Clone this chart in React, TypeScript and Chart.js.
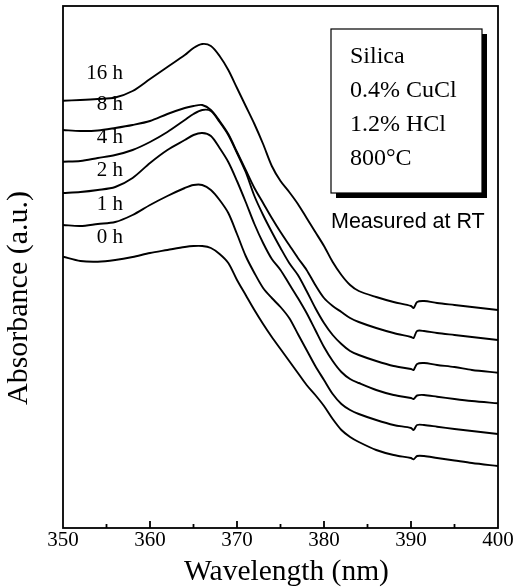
import React, { useEffect, useRef } from 'react';
import { Chart, registerables } from 'chart.js';

Chart.register(...registerables);

// Wavelength samples (nm)
const wavelengths = [
  350, 352, 354, 356, 358, 360, 362, 364, 365, 366, 367, 368, 369, 370, 371, 372, 373, 374, 375,
  376, 377, 378, 379, 380, 381, 382, 383, 384, 386, 388, 390, 390.3, 390.7, 391.5, 393, 395, 397, 400,
];

// Absorbance (a.u., offset curves) for each annealing time
const abs16h = [
  4.273, 4.28, 4.29, 4.305, 4.37, 4.49, 4.61, 4.73, 4.8, 4.84, 4.82, 4.72, 4.58, 4.4, 4.22, 4.04, 3.84, 3.62, 3.47,
  3.36, 3.24, 3.1, 2.96, 2.82, 2.66, 2.53, 2.43, 2.37, 2.31, 2.26, 2.22, 2.2, 2.26, 2.27, 2.25, 2.23, 2.21, 2.18,
];
const abs8h = [
  3.98, 3.97, 3.975, 4.0, 4.03, 4.07, 4.14, 4.2, 4.22, 4.23, 4.18, 4.07, 3.94, 3.76, 3.58, 3.4, 3.25, 3.1, 2.96,
  2.83, 2.7, 2.58, 2.43, 2.3, 2.22, 2.16, 2.1, 2.06, 2.0, 1.95, 1.91, 1.9, 1.97, 1.97, 1.95, 1.93, 1.91, 1.88,
];
const abs4h = [
  3.663, 3.67, 3.7, 3.73, 3.78, 3.86, 3.96, 4.08, 4.14, 4.18, 4.17, 4.06, 3.93, 3.75, 3.56, 3.32, 3.13, 2.96, 2.8,
  2.65, 2.53, 2.37, 2.2, 2.05, 1.93, 1.84, 1.77, 1.73, 1.67, 1.62, 1.59, 1.58, 1.64, 1.65, 1.63, 1.61, 1.58, 1.553,
];
const abs2h = [
  3.35, 3.36, 3.38, 3.41, 3.5, 3.65, 3.78, 3.88, 3.93, 3.95, 3.92, 3.8, 3.66, 3.47, 3.26, 3.04, 2.85, 2.69, 2.58,
  2.44, 2.3, 2.15, 1.98, 1.81, 1.67, 1.56, 1.49, 1.45, 1.38, 1.33, 1.3, 1.29, 1.325, 1.33, 1.313, 1.29, 1.27, 1.247,
];
const abs1h = [
  3.03, 3.02, 3.04, 3.06, 3.13, 3.23, 3.32, 3.4, 3.43, 3.43, 3.38, 3.28, 3.15, 2.94, 2.72, 2.55, 2.4, 2.3, 2.21,
  2.1, 1.94, 1.78, 1.62, 1.48, 1.34, 1.24, 1.18, 1.14, 1.08, 1.03, 1.0, 0.98, 1.03, 1.03, 1.013, 0.99, 0.97, 0.94,
];
const abs0h = [
  2.713, 2.67, 2.663, 2.68, 2.71, 2.75, 2.78, 2.81, 2.82, 2.82, 2.8, 2.74, 2.65, 2.48, 2.33, 2.18, 2.04, 1.91, 1.79,
  1.67, 1.55, 1.43, 1.33, 1.22, 1.09, 0.98, 0.91, 0.86, 0.78, 0.73, 0.7, 0.687, 0.72, 0.72, 0.7, 0.675, 0.65, 0.62,
];

const seriesLabels = ['16 h', '8 h', '4 h', '2 h', '1 h', '0 h'];
const xTickStep = 5;
const xLabelStep = 10;
const boxLines = ['Silica', '0.4% CuCl', '1.2% HCl', '800°C'];
const noteText = 'Measured at RT';
const xTitle = 'Wavelength (nm)';
const yTitle = 'Absorbance (a.u.)';

const SERIF = '"Liberation Serif", "Times New Roman", serif';
const SANS = '"Liberation Sans", Arial, sans-serif';

export default function App() {
  const ref = useRef<HTMLCanvasElement>(null);

  useEffect(() => {
    const canvas = ref.current;
    if (!canvas) return;
    const series = [abs16h, abs8h, abs4h, abs2h, abs1h, abs0h];

    const overlay = {
      id: 'overlay',
      afterDraw(chart: any) {
        const { ctx, chartArea: a, scales } = chart;
        const x = scales.x;
        const y = scales.y;
        ctx.save();
        ctx.strokeStyle = '#000';
        ctx.fillStyle = '#000';
        // frame
        ctx.lineWidth = 1.8;
        ctx.strokeRect(a.left, a.top, a.right - a.left, a.bottom - a.top);
        // inward ticks
        x.ticks.forEach((t: any) => {
          const v = t.value;
          if (v <= x.min || v >= x.max) return;
          const px = x.getPixelForValue(v);
          const len = v % xLabelStep === 0 ? 7 : 4;
          ctx.beginPath();
          ctx.moveTo(px, a.bottom);
          ctx.lineTo(px, a.bottom - len);
          ctx.stroke();
        });
        // curve labels
        ctx.font = `21px ${SERIF}`;
        ctx.textAlign = 'right';
        ctx.textBaseline = 'middle';
        const lx = x.getPixelForValue(356.9);
        series.forEach((s, i) => {
          const py = y.getPixelForValue(s[0]) - (19 + 1.6 * (series.length - 1 - i));
          ctx.fillText(seriesLabels[i], lx, py);
        });
        // x title
        ctx.textAlign = 'center';
        ctx.font = `29.5px ${SERIF}`;
        ctx.fillText(xTitle, (a.left + a.right) / 2 + 6, a.bottom + 44);
        // y title
        ctx.save();
        ctx.translate(a.left - 44, (a.top + a.bottom) / 2 + 31);
        ctx.rotate(-Math.PI / 2);
        ctx.font = `30px ${SERIF}`;
        ctx.fillText(yTitle, 0, 0);
        ctx.restore();
        // info box with shadow
        const bx = a.right - 167;
        const by = a.top + 23;
        const bw = 151;
        const bh = 164;
        ctx.fillRect(bx + 5, by + 5, bw, bh);
        ctx.fillStyle = '#fff';
        ctx.fillRect(bx, by, bw, bh);
        ctx.lineWidth = 1.2;
        ctx.strokeRect(bx, by, bw, bh);
        ctx.fillStyle = '#000';
        ctx.textAlign = 'left';
        ctx.font = `24px ${SERIF}`;
        boxLines.forEach((t, i) => ctx.fillText(t, bx + 19, by + 28 + i * 34));
        ctx.font = `21.5px ${SANS}`;
        ctx.fillText(noteText, bx, by + 193);
        ctx.restore();
      },
    };

    const chart = new Chart(canvas, {
      type: 'line',
      data: {
        datasets: series.map((s, i) => ({
          label: seriesLabels[i],
          data: wavelengths.map((w, j) => ({ x: w, y: s[j] })),
          borderColor: '#000',
          backgroundColor: '#000',
          borderWidth: 1.9,
          pointRadius: 0,
          tension: 0.3,
          fill: false,
        })),
      },
      options: {
        animation: false,
        responsive: false,
        devicePixelRatio: 1,
        layout: { padding: { left: 63, right: 18, top: 6, bottom: 33.8 } },
        plugins: { legend: { display: false }, tooltip: { enabled: false } },
        scales: {
          x: {
            type: 'linear',
            min: 350,
            max: 400,
            grid: { display: false, drawOnChartArea: false, drawTicks: false },
            border: { display: false },
            ticks: {
              stepSize: xTickStep,
              autoSkip: false,
              maxRotation: 0,
              padding: 0,
              color: '#000',
              font: { family: SERIF, size: 21 },
              callback: (v: any) => (Number(v) % xLabelStep === 0 ? String(v) : ''),
            },
            title: { display: false },
          },
          y: {
            display: false,
            min: 0,
            max: 5.22,
          },
        },
      },
      plugins: [overlay],
    } as any);

    return () => chart.destroy();
  }, []);

  return (
    <div style={{ position: 'fixed', left: 0, top: 0, width: 516, height: 587, background: '#fff' }}>
      <canvas ref={ref} width={516} height={587} style={{ display: 'block' }} />
    </div>
  );
}
